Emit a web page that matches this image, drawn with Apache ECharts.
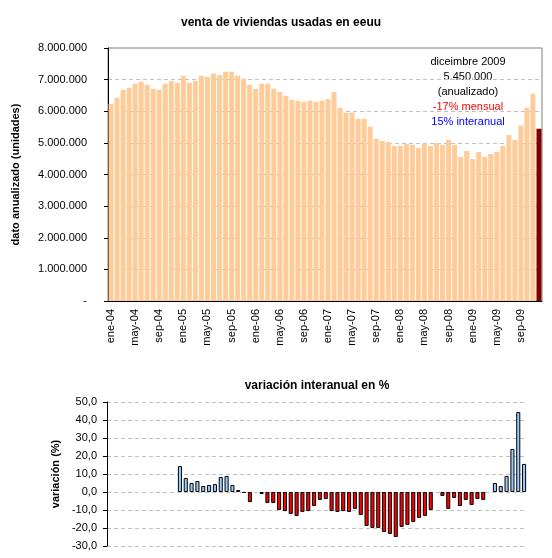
<!DOCTYPE html>
<html><head><meta charset="utf-8">
<script src="https://cdn.jsdelivr.net/npm/echarts@6/dist/echarts.min.js"></script>
<style>html,body{margin:0;padding:0;background:#fff}#c{width:552px;height:558px}</style>
</head><body><div id="c"></div>
<script>
const monthNames = ['ene','feb','mar','abr','may','jun','jul','ago','sep','oct','nov','dic'];
const years = ['04','05','06','07','08','09'];
const categories = [];
years.forEach(y => monthNames.forEach(m => categories.push(m + '-' + y)));

// ventas anualizadas (unidades)
const ventas = [
  6230000, 6420000, 6680000, 6740000, 6870000, 6930000, 6840000, 6710000, 6680000, 6870000, 6960000, 6900000,
  7120000, 6900000, 6960000, 7120000, 7090000, 7190000, 7150000, 7250000, 7250000, 7120000, 7030000, 6840000,
  6710000, 6870000, 6870000, 6710000, 6610000, 6490000, 6360000, 6330000, 6300000, 6330000, 6300000, 6330000,
  6390000, 6610000, 6110000, 5950000, 5950000, 5760000, 5760000, 5510000, 5130000, 5060000, 5030000, 4900000,
  4900000, 4970000, 4930000, 4840000, 4970000, 4900000, 5000000, 4930000, 5090000, 4930000, 4550000, 4740000,
  4490000, 4710000, 4550000, 4650000, 4710000, 4900000, 5250000, 5090000, 5540000, 6110000, 6550000, 5450000
];

// variación interanual (%)
const variacion = [
  null, null, null, null, null, null, null, null, null, null, null, null,
  14.4, 7.8, 5.0, 6.1, 3.3, 3.9, 4.4, 8.3, 8.9, 3.9, 1.1, -0.5,
  -5.6, null, -1.1, -6.1, -6.1, -10.0, -10.6, -12.2, -13.3, -11.1, -10.6, -7.8,
  -4.4, -3.9, -10.6, -11.1, -10.6, -11.1, -9.4, -12.8, -18.9, -20.0, -20.0, -22.2,
  -23.3, -25.0, -19.4, -18.3, -16.7, -14.4, -13.3, -10.0, null, -2.2, -9.4, -3.3,
  -7.8, -4.4, -7.2, -3.9, -4.4, null, 5.0, 3.3, 8.9, 23.9, 44.4, 15.6
];

const annotation = ['diceimbre 2009', '5.450.000', '(anualizado)', '-17% mensual', '15% interanual'];

const FONT = "'Liberation Sans', Arial, sans-serif";
const fmtMiles = v => v === 0 ? '-' : String(v).replace(/\B(?=(\d{3})+(?!\d))/g, '.');
const fmtPct = v => v.toFixed(1).replace('.', ',');

const chart = echarts.init(document.getElementById('c'), null, {renderer: 'canvas'});
chart.setOption({
  animation: false,
  backgroundColor: '#fff',
  textStyle: {fontFamily: FONT},
  title: [
    {text: 'venta de viviendas usadas en eeuu', left: 276, top: 12, textAlign: 'center',
     textStyle: {fontFamily: FONT, fontSize: 12, fontWeight: 'bold', color: '#000'}},
    {text: 'variación interanual en %', left: 312, top: 375, textAlign: 'center',
     textStyle: {fontFamily: FONT, fontSize: 12, fontWeight: 'bold', color: '#000'}}
  ],
  grid: [
    {left: 108, right: 10, top: 48, height: 253, show: true, borderColor: '#808080', borderWidth: 1, backgroundColor: '#fff'},
    {left: 107, right: 25, top: 402, height: 144}
  ],
  xAxis: [
    {type: 'category', gridIndex: 0, data: categories, boundaryGap: true,
     axisLine: {lineStyle: {color: '#000', width: 1}},
     axisTick: {interval: 3, length: 4, lineStyle: {color: '#000'}},
     axisLabel: {interval: 3, rotate: 90, margin: 8, fontFamily: FONT, fontSize: 11, color: '#000'},
     splitLine: {show: false}},
    {type: 'category', gridIndex: 1, data: categories, boundaryGap: true,
     axisLine: {show: false}, axisTick: {show: false}, axisLabel: {show: false}, splitLine: {show: false}}
  ],
  yAxis: [
    {type: 'value', gridIndex: 0, min: 0, max: 8000000, interval: 1000000,
     name: 'dato anualizado (unidades)', nameLocation: 'middle', nameGap: 87, nameRotate: 90,
     nameTextStyle: {fontFamily: FONT, fontSize: 11, fontWeight: 'bold', color: '#000'},
     axisLine: {show: true, lineStyle: {color: '#000'}},
     axisTick: {show: true, length: 4, lineStyle: {color: '#000'}},
     axisLabel: {formatter: fmtMiles, margin: 21, fontFamily: FONT, fontSize: 11, color: '#000'},
     splitLine: {show: true, lineStyle: {color: '#c0c0c0', type: [4, 3], width: 1}}},
    {type: 'value', gridIndex: 1, min: -30, max: 50, interval: 10,
     name: 'variación (%)', nameLocation: 'middle', nameGap: 34, nameRotate: 90,
     nameTextStyle: {fontFamily: FONT, fontSize: 11, fontWeight: 'bold', color: '#000'},
     axisLine: {show: true, onZero: false, lineStyle: {color: '#000'}},
     axisTick: {show: true, length: 4, lineStyle: {color: '#000'}},
     axisLabel: {formatter: fmtPct, margin: 10, fontFamily: FONT, fontSize: 11, color: '#000'},
     splitLine: {show: true, lineStyle: {color: '#c0c0c0', type: [4, 3], width: 1}}}
  ],
  series: [
    {type: 'bar', xAxisIndex: 0, yAxisIndex: 0, data: ventas, barCategoryGap: '17%',
     itemStyle: {color: p => p.dataIndex === ventas.length - 1 ? '#800000' : '#FFCC99'}},
    {type: 'bar', xAxisIndex: 1, yAxisIndex: 1, data: variacion, barCategoryGap: '30%',
     itemStyle: {color: p => p.value >= 0 ? '#99CCFF' : '#FF0000', borderColor: '#000', borderWidth: 1}}
  ],
  graphic: [
    {type: 'text', position: [468, 54],
     style: {
       text: annotation.map((t, i) => '{s' + i + '|' + t + '}').join('\n'),
       textAlign: 'center', fontFamily: FONT, fontSize: 11, lineHeight: 15,
       rich: {
         s0: {fill: '#000', fontFamily: FONT, fontSize: 11, lineHeight: 15},
         s1: {fill: '#000', fontFamily: FONT, fontSize: 11, lineHeight: 15},
         s2: {fill: '#000', fontFamily: FONT, fontSize: 11, lineHeight: 15},
         s3: {fill: '#FF0000', fontFamily: FONT, fontSize: 11, lineHeight: 15},
         s4: {fill: '#0000FF', fontFamily: FONT, fontSize: 11, lineHeight: 15}
       }
     }}
  ]
});
</script></body></html>
